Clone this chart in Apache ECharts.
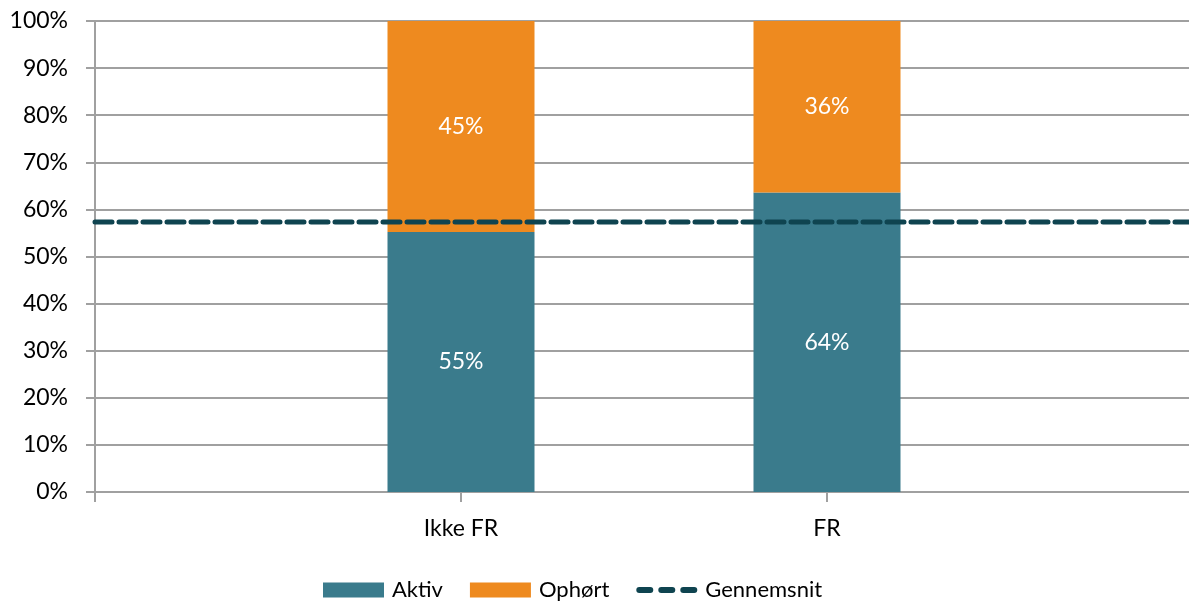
<!DOCTYPE html>
<html>
<head>
<meta charset="utf-8">
<script src="https://cdn.jsdelivr.net/npm/echarts@6/dist/echarts.min.js"></script>
<style>html,body{margin:0;padding:0;background:#fff;}#c{width:1189px;height:601px;}</style>
</head>
<body>
<div id="c"></div>
<script>
const categories = ['', 'Ikke FR', 'FR', ''];
const aktiv = [null, 55.2, 63.6, null];
const ophort = [null, 44.8, 36.4, null];
const gennemsnit = [57.3, 57.3, 57.3, 57.3];
const yTicks = [0, 10, 20, 30, 40, 50, 60, 70, 80, 90, 100];

const FONT = 'Lato';
function pill(x0, x1, yc, r) {
  return 'M' + (x0 + r) + ',' + (yc - r) + ' L' + (x1 - r) + ',' + (yc - r) +
    ' A' + r + ',' + r + ' 0 0 1 ' + (x1 - r) + ',' + (yc + r) +
    ' L' + (x0 + r) + ',' + (yc + r) +
    ' A' + r + ',' + r + ' 0 0 1 ' + (x0 + r) + ',' + (yc - r) + ' Z ';
}
const dashIcon = 'path://M0,0 M61,15 ' + pill(0, 17, 7.5, 3) + pill(22, 39, 7.5, 3) + pill(44, 61, 7.5, 3);

const chart = echarts.init(document.getElementById('c'));
const lbl = {
  show: true, position: 'inside', color: '#fff', fontSize: 23, fontFamily: FONT,
  formatter: p => Math.round(p.value) + '%'
};
chart.setOption({
  animation: false,
  grid: { left: 95, width: 1098, top: 21, bottom: 109, containLabel: false, outerBoundsMode: 'none' },
  legend: {
    top: 574, left: 318, itemWidth: 61, itemHeight: 15, itemGap: 27,
    textStyle: { fontSize: 22, fontFamily: FONT, color: '#000', padding: [0, 0, 0, 3] },
    data: [{ name: 'Aktiv', icon: 'rect' }, { name: 'Ophørt', icon: 'rect' },
      { name: 'Gennemsnit', icon: dashIcon, itemStyle: { color: '#0F4450' } }]
  },
  xAxis: {
    type: 'category', data: categories, boundaryGap: false,
    axisLine: { lineStyle: { color: '#a0a0a0', width: 2 } },
    axisTick: { show: true, length: 10, lineStyle: { color: '#a0a0a0', width: 2 },
      interval: (i) => i < 3 },
    axisLabel: { fontSize: 23, fontFamily: FONT, color: '#000', margin: 25, interval: 0 },
    splitLine: { show: false }
  },
  yAxis: {
    type: 'value', min: 0, max: 100, interval: 10,
    axisLine: { show: true, lineStyle: { color: '#a0a0a0', width: 2 } },
    axisTick: { show: true, length: 9, lineStyle: { color: '#a0a0a0', width: 2 } },
    axisLabel: { fontSize: 23, fontFamily: FONT, color: '#000', margin: 27,
      formatter: v => yTicks.includes(v) ? v + '%' : '' },
    splitLine: { lineStyle: { color: '#a0a0a0', width: 2 } }
  },
  series: [
    { name: 'Aktiv', type: 'bar', stack: 's', data: aktiv, barWidth: 147,
      itemStyle: { color: '#3A7B8C' }, label: lbl },
    { name: 'Ophørt', type: 'bar', stack: 's', data: ophort, barWidth: 147,
      itemStyle: { color: '#EE8A1F' }, label: lbl },
    { name: 'Gennemsnit', type: 'line', data: gennemsnit, symbol: 'none', z: 10,
      itemStyle: { color: '#0F4450' },
      lineStyle: { color: '#0F4450', width: 5, type: [17, 7], cap: 'round' } }
  ]
});
</script>
</body>
</html>
